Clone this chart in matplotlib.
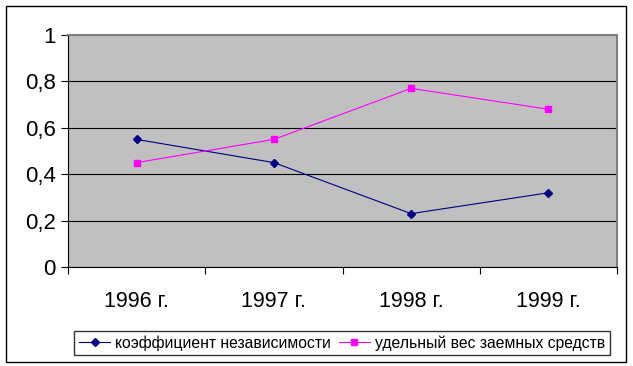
import matplotlib
matplotlib.use("Agg")
import matplotlib.pyplot as plt
from matplotlib.patches import Rectangle

categories = ["1996 г.", "1997 г.", "1998 г.", "1999 г."]
independence = [0.55, 0.45, 0.23, 0.32]
borrowed_share = [0.45, 0.55, 0.77, 0.68]
yticks = [0, 0.2, 0.4, 0.6, 0.8, 1.0]
ytick_labels = ["0", "0,2", "0,4", "0,6", "0,8", "1"]
series_names = ["коэффициент независимости", "удельный вес заемных средств"]

plt.rcParams['font.family'] = ['Liberation Sans', 'DejaVu Sans']

fig = plt.figure(figsize=(6.33, 3.66), dpi=100)
fig.patch.set_facecolor("white")
fig.add_artist(Rectangle((6/633, 1-362/366), 620/633, 356/366, transform=fig.transFigure,
                         fill=False, edgecolor="black", linewidth=1.0))

ax = fig.add_axes([68/633, 1-267/366, 549/633, 232/366])
ax.set_facecolor("#C0C0C0")
x = list(range(len(categories)))
ax.plot(x, independence, color="#000080", marker="D", markersize=4.5, linewidth=0.8,
        label=series_names[0])
ax.plot(x, borrowed_share, color="#FF00FF", marker="s", markersize=4.5, linewidth=0.8,
        label=series_names[1])

ax.set_xlim(-0.5, 3.5)
ax.set_ylim(0, 1)
ax.set_yticks(yticks)
ax.set_yticklabels(ytick_labels, fontsize=16)
ax.yaxis.grid(True, color="black", linewidth=0.8)
ax.set_axisbelow(True)
ax.set_xticks([-0.5, 0.5, 1.5, 2.5, 3.5])
ax.set_xticklabels([])
ax.set_xticks(x, minor=True)
ax.set_xticklabels(categories, minor=True, fontsize=15.5)
ax.tick_params(axis="x", which="minor", length=0, pad=17)
ax.tick_params(axis="x", which="major", length=5, width=0.8, color="black", direction="out")
ax.tick_params(axis="y", length=5, width=0.8, direction="out", pad=4)
for s in ["top", "right"]:
    ax.spines[s].set_color("#808080")
    ax.spines[s].set_linewidth(1.5)
for s in ["left", "bottom"]:
    ax.spines[s].set_color("black")
    ax.spines[s].set_linewidth(0.8)

leg = fig.legend(loc="center", bbox_to_anchor=(342/633, 1-343/366), ncol=2, fontsize=11.3,
                 frameon=True, fancybox=False, edgecolor="black", handlelength=2.0,
                 handletextpad=0.3, columnspacing=0.5, borderpad=0.3)
leg.get_frame().set_linewidth(1.0)

fig.savefig("out.png", dpi=100)
